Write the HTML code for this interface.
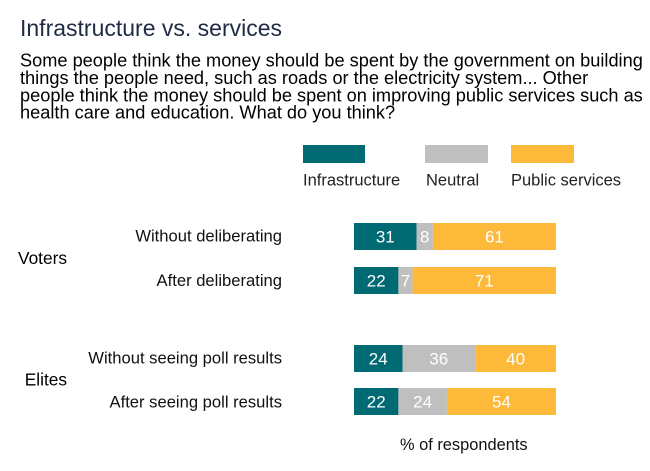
<!DOCTYPE html>
<html>
<head>
<meta charset="utf-8">
<style>
  html,body{margin:0;padding:0;background:#fff;}
  svg{display:block;}
  text{font-family:"Liberation Sans", Arial, sans-serif;}
</style>
</head>
<body>
<svg width="650" height="471" viewBox="0 0 650 471" xmlns="http://www.w3.org/2000/svg">
  <rect width="650" height="471" fill="#fff"/>
  <text x="20" y="36" font-size="23" fill="#1f2a44">Infrastructure vs. services</text>
  <g font-size="18.2" fill="#000">
    <text x="20" y="66.5">Some people think the money should be spent by the government on building</text>
    <text x="20" y="84">things the people need, such as roads or the electricity system... Other</text>
    <text x="20" y="101.3">people think the money should be spent on improving public services such as</text>
    <text x="20" y="118.5">health care and education. What do you think?</text>
  </g>

  <!-- legend -->
  <rect x="303" y="145" width="62" height="18" fill="#006a72"/>
  <rect x="425" y="145" width="63" height="18" fill="#bfbfbf"/>
  <rect x="511" y="145" width="63" height="18" fill="#fdb93a"/>
  <g font-size="16.5" fill="#222">
    <text x="303" y="185.5">Infrastructure</text>
    <text x="426" y="185.5">Neutral</text>
    <text x="511" y="185.5">Public services</text>
  </g>

  <!-- category labels -->
  <g font-size="16.6" fill="#111" text-anchor="end">
    <text x="282" y="241.5">Without deliberating</text>
    <text x="282" y="286">After deliberating</text>
    <text x="282" y="363.5">Without seeing poll results</text>
    <text x="282" y="407.5">After seeing poll results</text>
  </g>
  <g font-size="17.3" fill="#000" text-anchor="end">
    <text x="67" y="264">Voters</text>
    <text x="67" y="385.5">Elites</text>
  </g>

  <!-- bars: x0=354, 2.02px per % -->
  <rect x="354" y="223" width="62.6" height="27" fill="#006a72"/>
  <rect x="416.6" y="223" width="16.2" height="27" fill="#bfbfbf"/>
  <rect x="432.8" y="223" width="123.2" height="27" fill="#fdb93a"/>

  <rect x="354" y="267" width="44.4" height="27" fill="#006a72"/>
  <rect x="398.4" y="267" width="14.2" height="27" fill="#bfbfbf"/>
  <rect x="412.6" y="267" width="143.4" height="27" fill="#fdb93a"/>

  <rect x="354" y="345" width="48.5" height="27" fill="#006a72"/>
  <rect x="402.5" y="345" width="72.7" height="27" fill="#bfbfbf"/>
  <rect x="475.2" y="345" width="80.8" height="27" fill="#fdb93a"/>

  <rect x="354" y="388" width="44.4" height="27" fill="#006a72"/>
  <rect x="398.4" y="388" width="48.5" height="27" fill="#bfbfbf"/>
  <rect x="446.9" y="388" width="109.1" height="27" fill="#fdb93a"/>

  <g font-size="17" fill="#fff" text-anchor="middle">
    <text x="385.3" y="242.5">31</text>
    <text x="424.7" y="242.5">8</text>
    <text x="494.4" y="242.5">61</text>

    <text x="376.2" y="286.5">22</text>
    <text x="405.5" y="286.5">7</text>
    <text x="484.3" y="286.5">71</text>

    <text x="378.2" y="364.5">24</text>
    <text x="438.8" y="364.5">36</text>
    <text x="515.6" y="364.5">40</text>

    <text x="376.2" y="407.5">22</text>
    <text x="422.6" y="407.5">24</text>
    <text x="501.5" y="407.5">54</text>
  </g>

  <text x="400" y="450" font-size="16.4" fill="#111">% of respondents</text>
</svg>
</body>
</html>
